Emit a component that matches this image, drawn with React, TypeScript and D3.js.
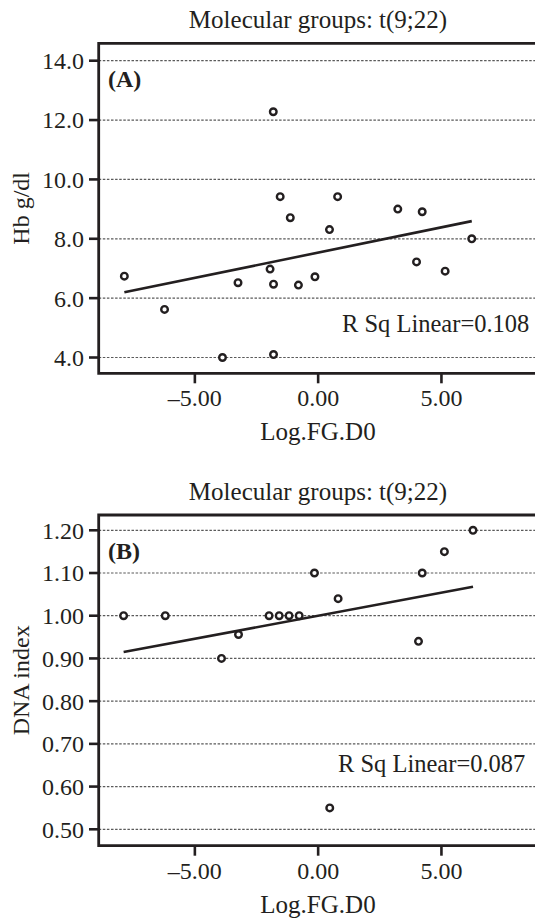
import React from "react";
import * as d3 from "d3";

const titleText = "Molecular groups: t(9;22)";
const xTitle = "Log.FG.D0";
const xTicks = [-5, 0, 5];

const hbX = [-7.86, -6.23, -3.88, -3.25, -1.95, -1.81, -1.81, -1.82, -1.54, -1.13, -0.8, -0.13, 0.46, 0.79, 3.23, 3.99, 4.22, 5.15, 6.23];
const hbY = [6.74, 5.62, 4.0, 6.52, 6.98, 6.47, 4.1, 12.28, 9.42, 8.71, 6.44, 6.72, 8.31, 9.42, 9.0, 7.22, 8.91, 6.91, 8.0];
const hbTicks = [4, 6, 8, 10, 12, 14];

const dnaX = [-7.89, -6.2, -3.92, -3.23, -1.99, -1.58, -1.18, -0.77, -0.15, 0.81, 4.07, 4.22, 5.12, 6.28, 0.47];
const dnaY = [1.0, 1.0, 0.9, 0.956, 1.0, 1.0, 1.0, 1.0, 1.1, 1.04, 0.94, 1.1, 1.15, 1.2, 0.55];
const dnaTicks = [0.5, 0.6, 0.7, 0.8, 0.9, 1.0, 1.1, 1.2];

const FONT = "'Liberation Serif', 'Times New Roman', serif";
const INK = "#231f20";

type PanelProps = {
  xs: number[];
  ys: number[];
  yTicks: number[];
  yFmt: (v: number) => string;
  yDomain: [number, number];
  top: number;
  bottom: number;
  letter: string;
  yLabel: string;
  rsq: string;
  rsqX: number;
  rsqY: number;
};

const fmtX = (v: number) => (v < 0 ? "–" + d3.format(".2f")(-v) : d3.format(".2f")(v));

function Panel(p: PanelProps) {
  const left = 98.7;
  const right = 545;
  const x = d3.scaleLinear().domain([-8.9, 9.2]).range([left, right]);
  const y = d3.scaleLinear().domain(p.yDomain).range([p.bottom, p.top]);
  const mx = d3.mean(p.xs)!;
  const my = d3.mean(p.ys)!;
  let sxy = 0, sxx = 0;
  p.xs.forEach((xv, i) => {
    sxy += (xv - mx) * (p.ys[i] - my);
    sxx += (xv - mx) * (xv - mx);
  });
  const slope = sxy / sxx;
  const icpt = my - slope * mx;
  const [x0, x1] = d3.extent(p.xs) as [number, number];
  const line = d3.line<number>().x((d) => x(d)).y((d) => y(icpt + slope * d));
  const midY = (p.top + p.bottom) / 2;
  return (
    <g>
      <text x={318} y={p.top - 15} textAnchor="middle" fontSize={25} fontFamily={FONT} fill={INK}>{titleText}</text>
      {p.yTicks.map((t) => (
        <g key={t}>
          <line x1={left} x2={540} y1={y(t)} y2={y(t)} stroke="#5a5a5a" strokeWidth={1.2} strokeDasharray="2.5,1.6" />
          <line x1={89} x2={left} y1={y(t)} y2={y(t)} stroke={INK} strokeWidth={2.6} />
          <text x={84} y={y(t)} dy="0.35em" textAnchor="end" fontSize={24} fontFamily={FONT} fill={INK}>{p.yFmt(t)}</text>
        </g>
      ))}
      {xTicks.map((t) => (
        <g key={t}>
          <line x1={x(t)} x2={x(t)} y1={p.bottom} y2={p.bottom + 10} stroke={INK} strokeWidth={2.6} />
          <text x={x(t)} y={p.bottom + 33} textAnchor="middle" fontSize={24} fontFamily={FONT} fill={INK}>{fmtX(t)}</text>
        </g>
      ))}
      <path d={`M${right},${p.top}H${left}V${p.bottom}H${right}`} fill="none" stroke={INK} strokeWidth={2.8} />
      <path d={line([x0, x1]) || ""} fill="none" stroke={INK} strokeWidth={2.6} />
      {p.xs.map((xv, i) => (
        <circle key={i} cx={x(xv)} cy={y(p.ys[i])} r={3.3} fill="white" stroke={INK} strokeWidth={2.4} />
      ))}
      <text x={108} y={p.top + 43.5} fontSize={24} fontWeight="bold" fontFamily={FONT} fill={INK}>{p.letter}</text>
      <text x={p.rsqX} y={p.rsqY} fontSize={24.5} fontFamily={FONT} fill={INK}>{p.rsq}</text>
      <text x={318} y={p.bottom + 67} textAnchor="middle" fontSize={25} fontFamily={FONT} fill={INK}>{xTitle}</text>
      <text transform={`translate(29,${midY}) rotate(-90)`} textAnchor="middle" fontSize={24} fontFamily={FONT} fill={INK}>{p.yLabel}</text>
    </g>
  );
}

export default function App() {
  return (
    <svg width={535} height={918} style={{ position: "absolute", left: 0, top: 0, background: "white" }}>
      <rect width={535} height={918} fill="white" />
      <Panel xs={hbX} ys={hbY} yTicks={hbTicks} yFmt={d3.format(".1f")} yDomain={[3.468, 14.586]} top={43.3} bottom={373.3} letter="(A)" yLabel="Hb g/dl" rsq="R Sq Linear=0.108" rsqX={342} rsqY={332.3} />
      <Panel xs={dnaX} ys={dnaY} yTicks={dnaTicks} yFmt={d3.format(".2f")} yDomain={[0.4616, 1.2358]} top={515} bottom={845.7} letter="(B)" yLabel="DNA index" rsq="R Sq Linear=0.087" rsqX={338} rsqY={771.7} />
    </svg>
  );
}
